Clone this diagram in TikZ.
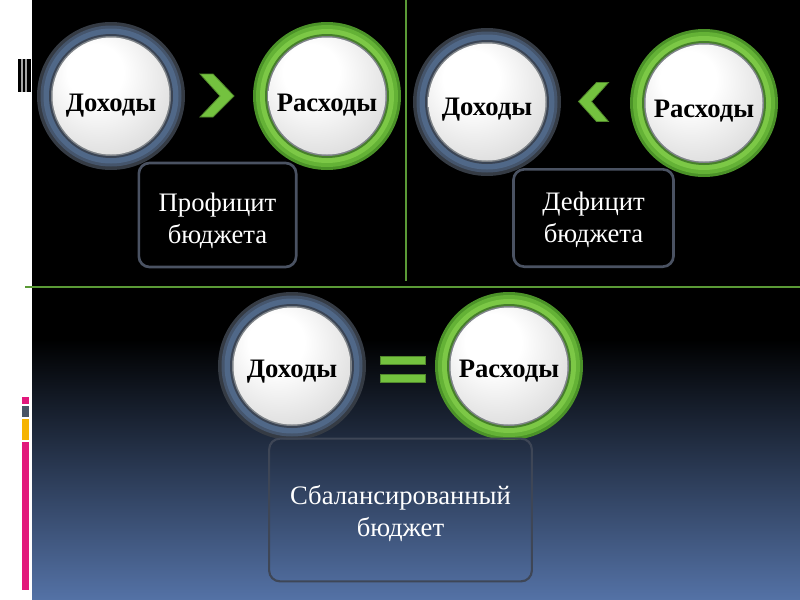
\documentclass[tikz,border=0pt]{standalone}
\usepackage{fontspec}
\setmainfont{Liberation Serif}
\usetikzlibrary{calc}
\definecolor{gline}{HTML}{5A9A36}
\definecolor{chev}{HTML}{74C23F}
\definecolor{boxline}{HTML}{4A5262}
\definecolor{boxline2}{HTML}{3E4656}
\definecolor{bgbot}{HTML}{5472A6}
\definecolor{pinkbar}{HTML}{E2187C}
\definecolor{slatebar}{HTML}{4A5566}
\definecolor{orangebar}{HTML}{F6B400}
\definecolor{sA}{HTML}{353B44}
\definecolor{sB}{HTML}{45556C}
\definecolor{sC}{HTML}{506888}
\definecolor{sD}{HTML}{3A4454}
\definecolor{gA}{HTML}{4B9228}
\definecolor{gB}{HTML}{64B236}
\definecolor{gC}{HTML}{7CC846}
\definecolor{gD}{HTML}{467F2A}
\definecolor{rim}{HTML}{7E8388}
\pgfdeclareradialshading{btnshade}{\pgfpoint{-8bp}{12bp}}{color(0bp)=(white); color(12bp)=(white); color(32bp)=(gray!24); color(47bp)=(gray!45); color(52bp)=(gray!60); color(75bp)=(gray!60)}
\newcommand{\lowtext}[2]{\raisebox{-#1}[\height][\depth]{#2}}
\tikzset{
  btn/.style={circle, inner sep=0pt, minimum size=111pt, text=black,
    font=\bfseries\fontsize{20}{23}\selectfont},
  slatebtn/.style={btn, path picture={
    \fill[sA] (path picture bounding box.center) circle (75);
    \fill[sB] (path picture bounding box.center) circle (70.5);
    \fill[sC] (path picture bounding box.center) circle (67.5);
    \fill[sD] (path picture bounding box.center) circle (62);
    \fill[rim] (path picture bounding box.center) circle (60);
    \shade[shading=btnshade] (path picture bounding box.center) circle (58.5);
  }},
  greenbtn/.style={btn, path picture={
    \fill[gA] (path picture bounding box.center) circle (75);
    \fill[gB] (path picture bounding box.center) circle (71);
    \fill[gC] (path picture bounding box.center) circle (67);
    \fill[gD] (path picture bounding box.center) circle (62);
    \fill[rim] (path picture bounding box.center) circle (60);
    \shade[shading=btnshade] (path picture bounding box.center) circle (58.5);
  }},
  infobox/.style={rectangle, rounded corners=8pt, draw=boxline, line width=2pt,
    fill=black, text=white, inner sep=0pt,
    font=\fontsize{20}{24}\selectfont},
  chevshape/.style={fill=chev, draw=chev!70!black, line width=0.6pt},
  greenline/.style={draw=gline, line width=1.6pt},
}
\begin{document}
\begin{tikzpicture}[x=0.75pt,y=-0.75pt]
\useasboundingbox (0,0) rectangle (800,600);
% background
\fill[white] (0,0) rectangle (800,600);
\fill[black] (32,0) rectangle (800,340);
\shade[top color=black, bottom color=bgbot] (32,339.5) rectangle (800,600);
% left decorations
\fill[black] (18,59) rectangle (31,92);
\draw[gray!70, line width=0.8pt] (22,59) -- (22,92) (26,59) -- (26,92);
\fill[pinkbar] (22,397) rectangle (29,404);
\fill[slatebar] (22,406) rectangle (29,417);
\fill[orangebar] (22,419) rectangle (29,440);
\fill[pinkbar] (22,442) rectangle (29,590);
% divider lines
\coordinate (vt) at (406,0);
\coordinate (vb) at (406,281);
\coordinate (hl) at (25,287);
\coordinate (hr) at (800,287);
\draw[greenline] (vt) -- (vb);
\draw[greenline] (hl) -- (hr);
% top-left
\node[slatebtn] (d1) at (111,96) {\lowtext{7pt}{Доходы}};
\node[greenbtn] (r1) at (327,96) {\lowtext{7pt}{Расходы}};
\node[infobox, minimum width=118pt, minimum height=78pt] (b1) at (217.5,215)
  {\lowtext{4.5pt}{\begin{tabular}{@{}c@{}}Профицит\\бюджета\end{tabular}}};
\path[chevshape, shift={($(d1)!0.5!(r1)$)}] (-19,-22) -- (-6,-22) -- (15,0) -- (-6,21) -- (-19,21) -- (1,0) -- cycle;
% top-right
\node[slatebtn] (d2) at (487,102) {\lowtext{6pt}{Доходы}};
\node[greenbtn] (r2) at (704,103) {\lowtext{6pt}{Расходы}};
\node[infobox, minimum width=120pt, minimum height=73pt] (b2) at (593.5,218)
  {\lowtext{1.5pt}{\begin{tabular}{@{}c@{}}Дефицит\\бюджета\end{tabular}}};
\path[chevshape, shift={($(d2)!0.5!(r2)$)}] (13,-20) -- (1,-20) -- (-17,-1) -- (1,19) -- (13,19) -- (-4,-1) -- cycle;
% bottom
\node[slatebtn] (d3) at (292,366) {\lowtext{4pt}{Доходы}};
\node[greenbtn] (r3) at (509,366) {\lowtext{4pt}{Расходы}};
\node[infobox, fill=none, draw=boxline2, line width=1.6pt, minimum width=197pt, minimum height=107pt] (b3) at (400.5,510)
  {\lowtext{3pt}{\begin{tabular}{@{}c@{}}Сбалансированный\\бюджет\end{tabular}}};
\begin{scope}[shift={($(d3)!0.5!(r3)$)}]
  \path[chevshape] (-20,-10) rectangle (25,-2);
  \path[chevshape] (-20,8) rectangle (25,16);
\end{scope}
\end{tikzpicture}
\end{document}
